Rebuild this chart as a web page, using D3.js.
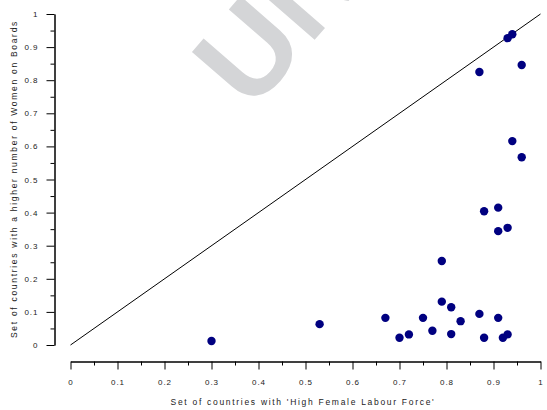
<!DOCTYPE html>
<html>
<head>
<meta charset="utf-8">
<script src="https://cdn.jsdelivr.net/npm/d3@7"></script>
<style>
  body { margin: 0; background: #fff; }
  svg text { font-family: "Liberation Sans", Arial, sans-serif; fill: #222; }
  .tick text { font-size: 8px; letter-spacing: 1px; }
  .axes-text { font-size: 8.5px; letter-spacing: 1.7px; }
</style>
</head>
<body>
<div id="container"></div>
<script>
// share of countries with high female labour force (x) vs. higher number of women on boards (y)
const labourForce = [0.30, 0.53, 0.67, 0.70, 0.72, 0.75, 0.77, 0.79, 0.79, 0.81, 0.81, 0.83, 0.87, 0.87,
	0.88, 0.88, 0.91, 0.91, 0.91, 0.92, 0.93, 0.93, 0.93, 0.94, 0.94, 0.96, 0.96];
const womenOnBoards = [0.012, 0.063, 0.082, 0.022, 0.032, 0.082, 0.043, 0.131, 0.254, 0.114, 0.033, 0.072, 0.094, 0.825,
	0.404, 0.022, 0.415, 0.344, 0.082, 0.022, 0.032, 0.354, 0.927, 0.939, 0.616, 0.846, 0.567];
const majorTicks = [0, 0.1, 0.2, 0.3, 0.4, 0.5, 0.6, 0.7, 0.8, 0.9, 1];
const minorTicks = [0.05, 0.15, 0.25, 0.35, 0.45, 0.55, 0.65, 0.75, 0.85, 0.95];
const diagonal = [0, 1];

const w=547;
const h=410;
const svg=d3.select("#container").append("svg").attr("width", w).attr("height", h);

const xScale=d3.scaleLinear().domain([0, 1]).range([70.5, 540.5]);
const yScale=d3.scaleLinear().domain([0, 1]).range([345, 14]);

// Watermark (cut by the top edge, as in the source)
svg.append("text")
	.attr("transform", "translate(251,113) rotate(-49)")
	.style("font-size", "123px")
	.style("font-weight", "bold")
	.style("fill", "#d4d5d7")
	.text("UN");

// Axes, detached from the plot area
const fmt = d => d === 0 ? "0" : d === 1 ? "1" : d3.format(".1f")(d);

const xAxisGroup=svg.append("g").attr("transform", "translate(0, 361.5)");
xAxisGroup.call(d3.axisBottom(xScale).tickValues(majorTicks).tickFormat(fmt).tickSize(8).tickSizeOuter(0).tickPadding(10));
xAxisGroup.append("g").call(d3.axisBottom(xScale).tickValues(minorTicks).tickFormat("").tickSize(4).tickSizeOuter(0));

const yAxisGroup=svg.append("g").attr("transform", "translate(54.5, 0)");
yAxisGroup.call(d3.axisLeft(yScale).tickValues(majorTicks).tickFormat(fmt).tickSize(8).tickSizeOuter(0).tickPadding(8));
yAxisGroup.append("g").call(d3.axisLeft(yScale).tickValues(minorTicks).tickFormat("").tickSize(4).tickSizeOuter(0));

svg.selectAll(".domain").attr("stroke", "#000");
svg.selectAll(".tick line").attr("stroke", "#000");

// y = x reference line
svg.append("line")
	.attr("x1", xScale(diagonal[0]))
	.attr("y1", yScale(diagonal[0]))
	.attr("x2", xScale(diagonal[1]))
	.attr("y2", yScale(diagonal[1]))
	.attr("stroke", "#000")
	.attr("stroke-width", 1);

// Dots
svg.selectAll("circle")
	.data(labourForce)
	.enter()
	.append("circle")
		.attr("cx", d => xScale(d))
		.attr("cy", (d, i) => yScale(womenOnBoards[i]))
		.attr("r", 4.2)
		.attr("fill", "#000080");

svg.append("text")
	.attr("x", 303)
	.attr("y", 405)
	.attr("text-anchor", "middle")
	.attr("class", "axes-text")
	.text("Set of countries with 'High Female Labour Force'");

svg.append("text")
	.attr("transform", "rotate(-90)")
	.attr("x", -179)
	.attr("y", 17)
	.attr("text-anchor", "middle")
	.attr("class", "axes-text")
	.text("Set of countries with a higher number of Women on Boards");
</script>
</body>
</html>
